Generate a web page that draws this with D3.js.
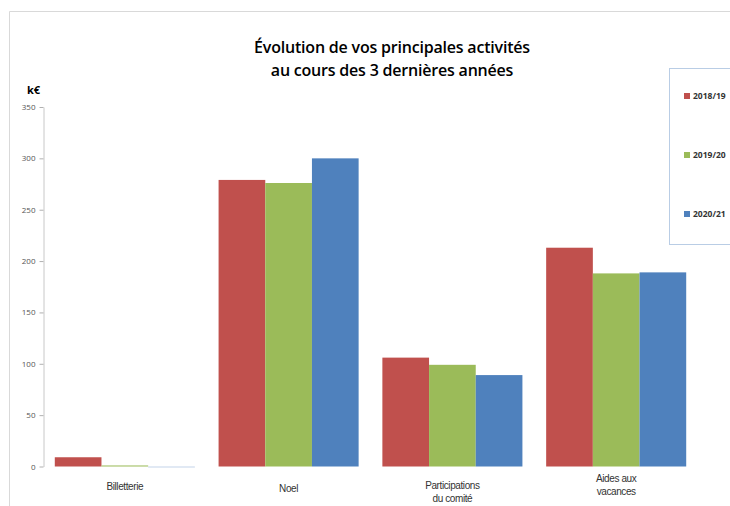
<!DOCTYPE html>
<meta charset="utf-8">
<script src="https://d3js.org/d3.v7.min.js"></script>
<style>
body { margin: 0; background: #fff; }
</style>
<body>
<div id="my_dataviz"></div>
<script>

// data
const categories = [["Billetterie"], ["Noel"], ["Participations", "du comité"], ["Aides aux", "vacances"]];
const seriesNames = ["2018/19", "2019/20", "2020/21"];
const v2018 = [9, 279, 106, 213];
const v2019 = [1, 276, 99, 188];
const v2020 = [0, 300, 89, 189];
const yTicks = [0, 50, 100, 150, 200, 250, 300, 350];

const colors = ["#C0504D", "#9BBB59", "#4F81BD"];
const allSeries = [v2018, v2019, v2020];

const W = 730, H = 506;
const svg = d3.select("#my_dataviz")
  .append("svg")
    .attr("width", W)
    .attr("height", H);

// outer frame (only top and left visible)
svg.append("path")
  .attr("d", `M9.5,${H} V11.5 H${W}`)
  .attr("fill", "none")
  .attr("stroke", "#d9d9d9");

// title
const title = svg.append("text")
  .attr("text-anchor", "middle")
  .style("font-family", "'Open Sans', sans-serif")
  .style("font-size", "16px")
  .style("font-weight", "600")
  .style("letter-spacing", "-0.2px")
  .attr("fill", "#000");
title.append("tspan").attr("x", 392).attr("y", 53).text("Évolution de vos principales activités");
title.append("tspan").attr("x", 392).attr("y", 76).text("au cours des 3 dernières années");

// unit
svg.append("text")
  .attr("x", 27).attr("y", 94)
  .style("font-family", "'Open Sans', sans-serif")
  .style("font-size", "11px")
  .style("font-weight", "bold")
  .text("k€");

// scales
const x = d3.scaleBand()
  .domain(d3.range(categories.length))
  .range([43, 698])
  .paddingInner(0.145)
  .paddingOuter(0.072);

const xs = d3.scaleBand()
  .domain(d3.range(seriesNames.length))
  .range([0, x.bandwidth()]);

const y = d3.scaleLinear()
  .domain([0, 350])
  .range([466.5, 107]);

// y axis
const yAxis = svg.append("g")
  .attr("transform", "translate(43.5,0)")
  .call(d3.axisLeft(y).tickValues(yTicks).tickSize(4).tickSizeOuter(0));
yAxis.select(".domain").attr("stroke", "#c8c8c8");
yAxis.selectAll(".tick line").attr("stroke", "#b0b0b0");
yAxis.selectAll(".tick text")
  .attr("fill", "#555")
  .attr("x", -8)
  .style("font-family", "'Open Sans', sans-serif")
  .style("font-size", "8px");

// bars
allSeries.forEach((vals, s) => {
  svg.append("g")
    .selectAll("rect")
    .data(vals)
    .join("rect")
      .attr("x", (d, i) => x(i) + xs(s))
      .attr("y", d => y(d))
      .attr("width", xs.bandwidth())
      .attr("height", d => Math.max(y(0) - y(d), d === 0 ? 1 : 0))
      .attr("fill", colors[s])
      .attr("opacity", d => d === 0 ? 0.35 : 1);
});

// category labels
const labelTop = [490, 492, 489, 482];
categories.forEach((lines, i) => {
  const t = svg.append("text")
    .attr("text-anchor", "middle")
    .style("font-family", "'Liberation Sans', Arial, sans-serif")
    .style("font-size", "10px")
    .style("letter-spacing", "-0.4px")
    .attr("fill", "#333");
  lines.forEach((ln, j) => {
    t.append("tspan")
      .attr("x", x(i) + x.bandwidth() / 2)
      .attr("y", labelTop[i] + j * 13)
      .text(ln);
  });
});

// legend
svg.append("rect")
  .attr("x", 669.5).attr("y", 68.5)
  .attr("width", 80).attr("height", 176)
  .attr("fill", "#fff")
  .attr("stroke", "#b9cde5");

const legY = d3.scalePoint().domain(seriesNames).range([98, 216]);
seriesNames.forEach((n, s) => {
  svg.append("rect")
    .attr("x", 684).attr("y", legY(n) - 5)
    .attr("width", 6).attr("height", 6)
    .attr("fill", colors[s]);
  svg.append("text")
    .attr("x", 693).attr("y", legY(n) + 1)
    .style("font-family", "'Open Sans', sans-serif")
    .style("font-size", "8.5px")
    .style("font-weight", "bold")
    .attr("fill", "#333")
    .text(n);
});

</script>
</body>
